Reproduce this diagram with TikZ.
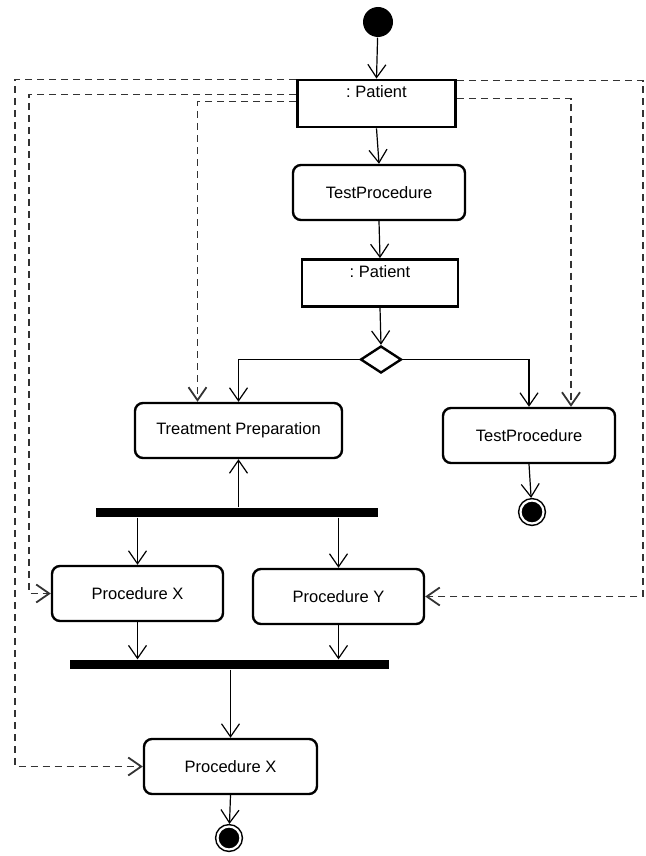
\documentclass[tikz,border=0pt]{standalone}
\usepackage{fontspec}
\setmainfont{Liberation Sans}
\usetikzlibrary{arrows.meta,shapes.geometric}

\begin{document}
\begin{tikzpicture}[x=1pt,y=-1pt,line width=1.2pt,font=\fontsize{16.5}{19}\selectfont,
  >={Straight Barb[length=13pt,width=18pt]},
  act/.style={draw,rounded corners=8pt,line width=2.4pt,inner sep=0pt,minimum height=55pt},
  obj/.style={draw,line width=2.8pt,inner sep=0pt,minimum width=158pt,minimum height=47pt,text height=12pt,text depth=24pt},
  bar/.style={fill=black,inner sep=0pt,minimum height=9pt},
  init/.style={circle,fill=black,inner sep=0pt,minimum size=30pt},
  final/.style={circle,draw,fill=black,double=white,double distance=2.2pt,line width=1.5pt,inner sep=0pt,minimum size=23pt,outer sep=2.6pt},
  dec/.style={diamond,draw,line width=2.4pt,inner sep=0pt,minimum width=41pt,minimum height=27pt},
  flow/.style={->},
  dep/.style={->,dash pattern=on 7pt off 5pt,line width=1.8pt,draw=black!80}]
\useasboundingbox (0,0) rectangle (645,856);
% nodes
\node[init] (start) at (378,22) {};
\node[obj] (pat1) at (376.5,103.5) {:\ Patient};
\node[act,minimum width=172pt] (tp1) at (379,192.5) {TestProcedure};
\node[obj,minimum width=156pt] (pat2) at (380,283) {:\ Patient};
\node[dec] (choice) at (381,359.5) {};
\node[act,minimum width=207pt] (prep) at (238.5,430.5) {Treatment Preparation};
\node[act,minimum width=172pt] (tp2) at (529,435.5) {TestProcedure};
\node[final] (end1) at (532,512) {};
\node[bar,minimum width=282pt] (fork) at (237,512.5) {};
\node[act,minimum width=171pt] (procx) at (137.5,593.5) {Procedure X};
\node[act,minimum width=171pt] (procy) at (338.5,596.5) {Procedure Y};
\node[bar,minimum width=319pt] (join) at (229.5,664.5) {};
\node[act,minimum width=173pt] (procx2) at (230.5,766.5) {Procedure X};
\node[final] (end2) at (229,838) {};
% control flow
\draw[flow] (start) -- (pat1.north);
\draw[flow] (pat1.south) -- (tp1.north);
\draw[flow] (tp1.south) -- (pat2.north);
\draw[flow] (pat2.south) -- (choice.north);
\draw[flow] (choice.west) -| (prep.north);
\draw[flow] (choice.east) -| (tp2.north);
\draw[flow] (tp2.south) -- (end1);
\draw[flow] (prep.south |- fork.north) -- (prep.south);
\draw[flow] (procx.north |- fork.south) -- (procx.north);
\draw[flow] (procy.north |- fork.south) -- (procy.north);
\draw[flow] (procx.south) -- (procx.south |- join.north);
\draw[flow] (procy.south) -- (procy.south |- join.north);
\draw[flow] (procx2.north |- join.south) -- (procx2.north);
\draw[flow] (procx2.south) -- (end2);
% object flow
\draw[dep] ([yshift=-1pt]pat1.north west) -| ([xshift=-128pt]procx2.west) -- (procx2.west);
\draw[dep] ([yshift=-16pt]pat1.north west) -| ([xshift=-22pt]procx.west) -- (procx.west);
\draw[dep] ([yshift=-23pt]pat1.north west) -| ([xshift=-41pt]prep.north);
\draw[dep] ([yshift=-2pt]pat1.north east) -| ([xshift=218pt]procy.east) -- (procy.east);
\draw[dep] ([yshift=-20pt]pat1.north east) -| ([xshift=42pt]tp2.north);
\end{tikzpicture}
\end{document}
